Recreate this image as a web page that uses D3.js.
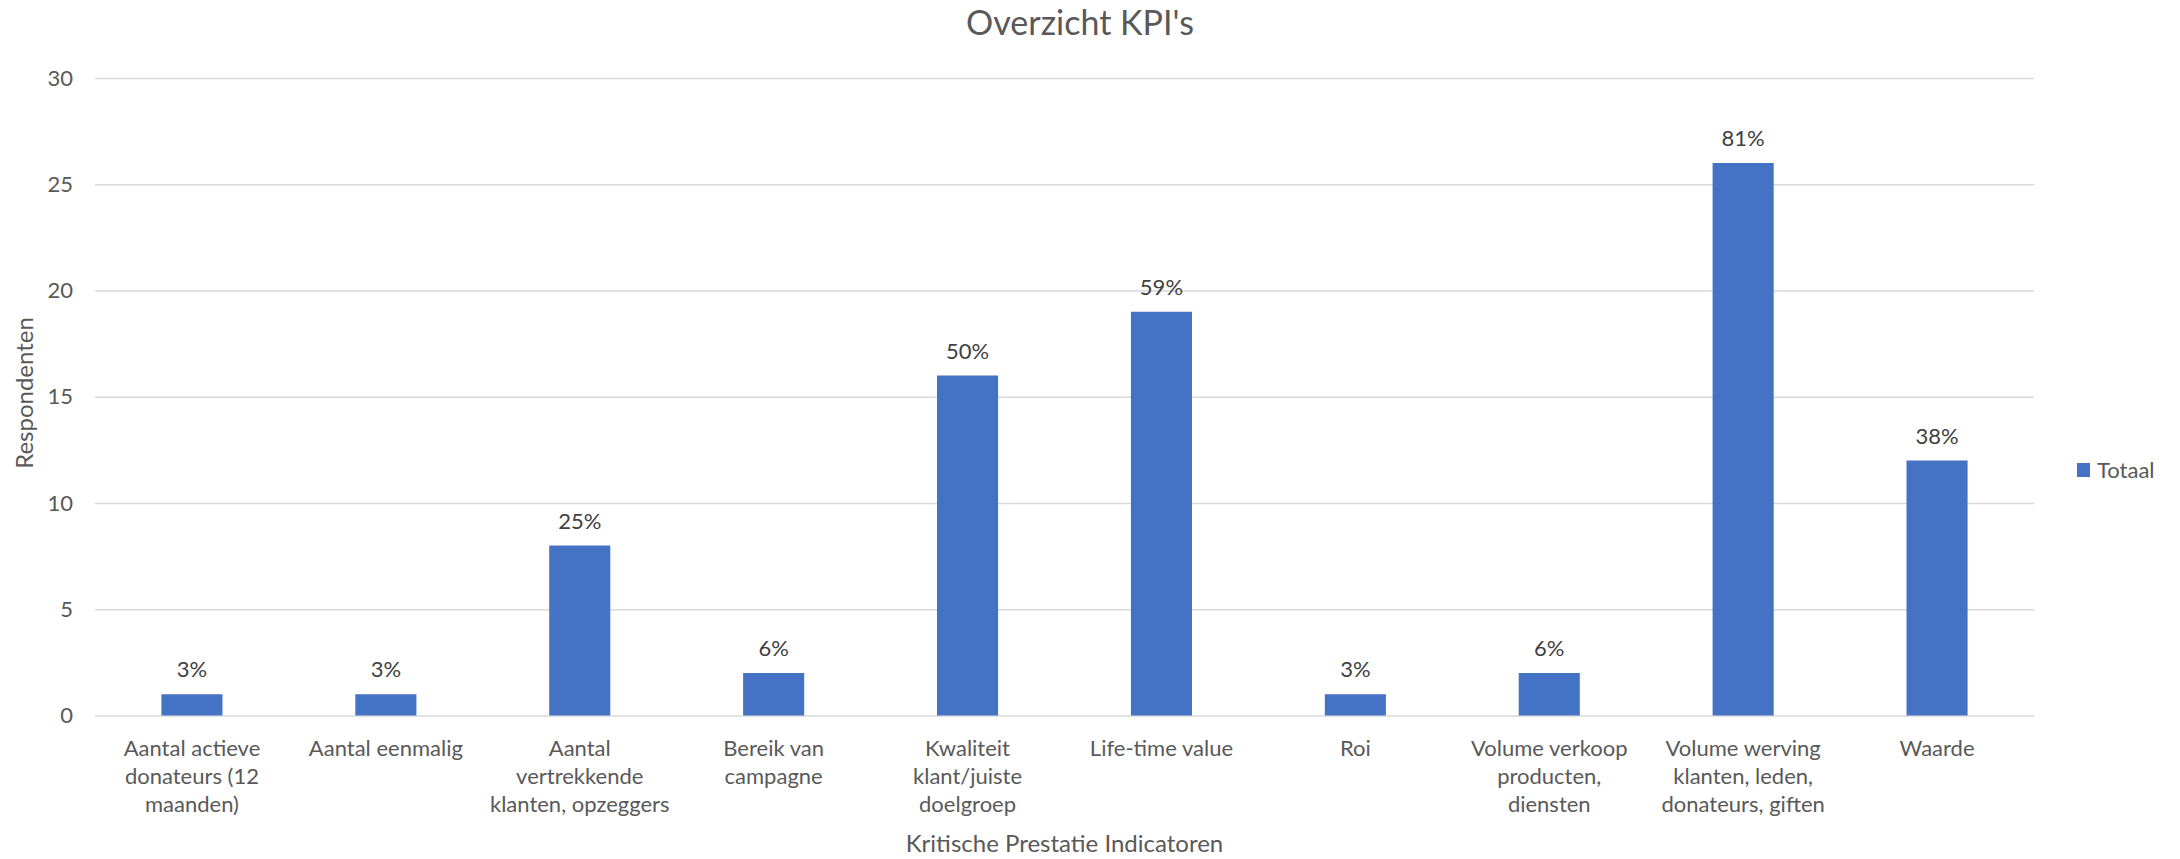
<!DOCTYPE html>
<html>
<head>
<meta charset="utf-8">
<script src="https://cdn.jsdelivr.net/npm/d3@7"></script>
<style>
  html, body { margin: 0; padding: 0; background: #ffffff; }
  svg { display: block; font-family: Lato, "Open Sans", sans-serif; }
</style>
</head>
<body>
<svg id="chart" width="2180" height="859"></svg>
<script>
// KPI categories, each split into the lines shown under the axis
const categoryLines = [
  ["Aantal actieve", "donateurs (12", "maanden)"],
  ["Aantal eenmalig"],
  ["Aantal", "vertrekkende", "klanten, opzeggers"],
  ["Bereik van", "campagne"],
  ["Kwaliteit", "klant/juiste", "doelgroep"],
  ["Life-time value"],
  ["Roi"],
  ["Volume verkoop", "producten,", "diensten"],
  ["Volume werving", "klanten, leden,", "donateurs, giften"],
  ["Waarde"]
];
const categories = categoryLines.map(l => l.join(" "));

// Number of respondents choosing each KPI
const respondents = [1, 1, 8, 2, 16, 19, 1, 2, 26, 12];

// Total number of respondents (share labels are count / total)
const totalRespondents = 32;

const yTicks = [0, 5, 10, 15, 20, 25, 30];
const seriesName = "Totaal";

const svg = d3.select("#chart");
const margin = { left: 95, right: 146, top: 78, bottom: 143.5 };
const W = 2180, H = 859;
const plotW = W - margin.left - margin.right;
const plotH = H - margin.top - margin.bottom;

const x = d3.scaleBand()
  .domain(categories)
  .range([margin.left, margin.left + plotW])
  .paddingInner(0.685)
  .paddingOuter(0.3425);

const y = d3.scaleLinear()
  .domain([0, 30])
  .range([margin.top + plotH, margin.top]);

// Title
svg.append("text")
  .attr("x", 1080)
  .attr("y", 35)
  .attr("text-anchor", "middle")
  .attr("fill", "#595959")
  .style("font-size", "34px")
  .text("Overzicht KPI's");

// Y axis with gridlines
const yAxis = svg.append("g")
  .attr("transform", `translate(${margin.left},0)`)
  .call(d3.axisLeft(y).tickValues(yTicks).tickSize(-plotW).tickPadding(22));
yAxis.select(".domain").remove();
yAxis.selectAll(".tick line").attr("stroke", "#D9D9D9").attr("stroke-width", 1.3);
yAxis.selectAll(".tick text")
  .attr("fill", "#595959")
  .style("font-size", "22px")
  .style("font-family", "Lato, sans-serif");

// Bars
svg.append("g").selectAll("rect")
  .data(respondents)
  .join("rect")
  .attr("x", (d, i) => x(categories[i]))
  .attr("y", d => y(d))
  .attr("width", x.bandwidth())
  .attr("height", d => y(0) - y(d))
  .attr("fill", "#4472C4");

// Share labels above bars
svg.append("g").selectAll("text")
  .data(respondents)
  .join("text")
  .attr("x", (d, i) => x(categories[i]) + x.bandwidth() / 2)
  .attr("y", d => y(d) - 17)
  .attr("text-anchor", "middle")
  .attr("fill", "#404040")
  .style("font-size", "22px")
  .text(d => Math.round(d / totalRespondents * 100) + "%");

// X axis category labels
const xAxis = svg.append("g")
  .attr("transform", `translate(0,${margin.top + plotH})`)
  .call(d3.axisBottom(x).tickSize(0).tickFormat(""));
xAxis.select(".domain").remove();
xAxis.selectAll(".tick").each(function (d, i) {
  const t = d3.select(this).append("text")
    .attr("text-anchor", "middle")
    .attr("fill", "#595959")
    .style("font-size", "22px")
    .style("font-family", "Lato, sans-serif");
  categoryLines[i].forEach((line, k) => {
    t.append("tspan").attr("x", 0).attr("y", 40 + k * 28).text(line);
  });
});

// Axis titles
svg.append("text")
  .attr("x", margin.left + plotW / 2)
  .attr("y", 852)
  .attr("text-anchor", "middle")
  .attr("fill", "#595959")
  .style("font-size", "24px")
  .text("Kritische Prestatie Indicatoren");

svg.append("text")
  .attr("transform", "translate(33,393) rotate(-90)")
  .attr("text-anchor", "middle")
  .attr("fill", "#595959")
  .style("font-size", "24px")
  .text("Respondenten");

// Legend
const legend = svg.append("g").attr("transform", "translate(2077,463)");
legend.append("rect").attr("width", 13).attr("height", 14).attr("fill", "#4472C4");
legend.append("text")
  .attr("x", 20)
  .attr("y", 15)
  .attr("fill", "#595959")
  .style("font-size", "22px")
  .text(seriesName);
</script>
</body>
</html>
